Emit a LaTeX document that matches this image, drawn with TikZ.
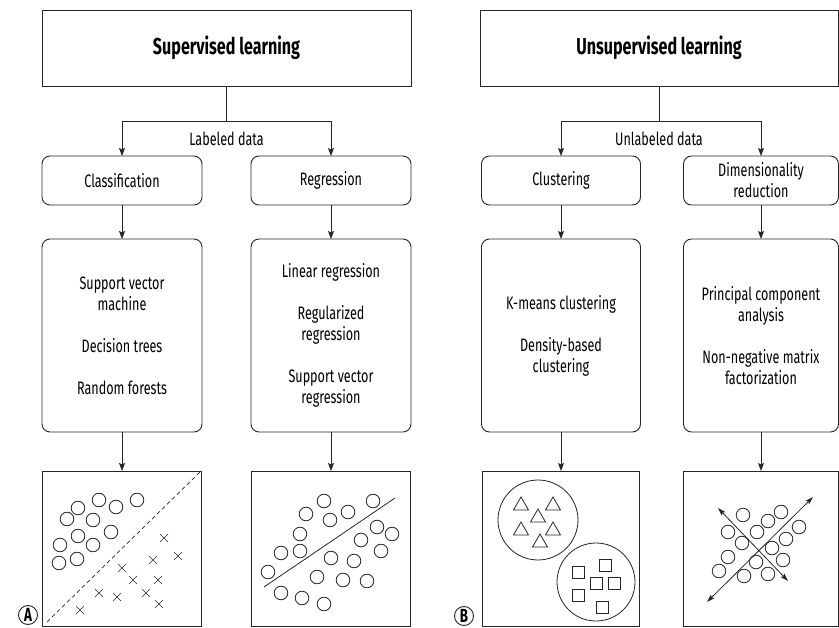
\documentclass[tikz,border=0pt]{standalone}
\usepackage{fontspec}
\setmainfont{Fira Sans}[FakeStretch=0.7]
\usetikzlibrary{arrows.meta}

\tikzset{
  title/.style={draw, outer sep=0pt, inner sep=0pt, align=center, font=\fontsize{23}{27}\selectfont\bfseries},
  box/.style={draw, rounded corners=8pt, outer sep=0pt, inner sep=0pt, align=center, font=\fontsize{18}{21}\selectfont},
  plot/.style={draw, outer sep=0pt, inner sep=0pt, minimum height=155pt},
  tag/.style={draw, circle, outer sep=0pt, inner sep=0pt, minimum size=19pt, font=\fontsize{19}{19}\selectfont\bfseries},
  arr/.style={-{Stealth[length=8pt,width=6pt,inset=1.5pt]}},
  twoarr/.style={{Stealth[length=8pt,width=5pt,inset=1.5pt]}-{Stealth[length=8pt,width=5pt,inset=1.5pt]}}
}

\begin{document}
\begin{tikzpicture}[x=1pt, y=-1pt, line width=0.9pt, draw=black!85]
  \useasboundingbox (0,0) rectangle (839,628);

  \node[title, minimum width=369pt, minimum height=76pt] (sup) at (226.5,48) {Supervised learning};
  \node[title, minimum width=358pt, minimum height=76pt] (unsup) at (659,48) {Unsupervised learning};

  \node[box, minimum width=160pt, minimum height=49pt] (cls) at (122,180.5) {Classification};
  \node[box, minimum width=160pt, minimum height=49pt] (reg) at (331,180.5) {Regression};
  \node[box, minimum width=159pt, minimum height=49pt] (clu) at (561,180.5) {Clustering};
  \node[box, minimum width=155pt, minimum height=49pt] (dim) at (761,180.5) {Dimensionality\\reduction};

  \node[box, minimum width=160pt, minimum height=193pt] (clsalg) at (122,335.5)
    {Support vector\\machine\\[21pt]Decision trees\\[21pt]Random forests};
  \node[box, minimum width=160pt, minimum height=193pt] (regalg) at (331,335.5)
    {Linear regression\\[21pt]Regularized\\regression\\[21pt]Support vector\\regression};
  \node[box, minimum width=159pt, minimum height=193pt] (clualg) at (561,335.5)
    {K-means clustering\\[21pt]Density-based\\clustering};
  \node[box, minimum width=155pt, minimum height=193pt] (dimalg) at (761,335.5)
    {Principal component\\analysis\\[21pt]Non-negative matrix\\factorization};

  \node[plot, minimum width=159pt] (clsplot) at (122,548.5) {};
  \node[plot, minimum width=159pt] (regplot) at (331,548.5) {};
  \node[plot, minimum width=157pt] (cluplot) at (561,548.5) {};
  \node[plot, minimum width=155pt] (dimplot) at (761,548.5) {};

  \node[tag] (tagA) at (28,615) {A};
  \node[tag] (tagB) at (464,616) {B};

  \coordinate (supfork) at (226.5,121);
  \coordinate (unsupfork) at (659,121);
  \draw (sup) -- (supfork);
  \draw[arr] (supfork) -| (cls.north);
  \draw[arr] (supfork) -| (reg.north);
  \draw (unsup) -- (unsupfork);
  \draw[arr] (unsupfork) -| (clu.north);
  \draw[arr] (unsupfork) -| (dim.north);
  \node[font=\fontsize{18}{21}\selectfont] (labeled) at (226.5,139) {Labeled data};
  \node[font=\fontsize{18}{21}\selectfont] (unlabeled) at (659,139) {Unlabeled data};

  \draw[arr] (cls) -- (clsalg);
  \draw[arr] (reg) -- (regalg);
  \draw[arr] (clu) -- (clualg);
  \draw[arr] (dim) -- (dimalg);
  \draw[arr] (clsalg) -- (clsplot);
  \draw[arr] (regalg) -- (regplot);
  \draw[arr] (clualg) -- (cluplot);
  \draw[arr] (dimalg) -- (dimplot);

  \draw[line width=0.7pt, dash pattern=on 4pt off 3pt] (47,622) -- (200,472);
  \foreach \p in {(99,500),(116,507),(137,500),(78,508),(67,519),(93,520),
                  (111,532),(78,536),(60,545),(93,545),(59,563),(77,559)}
    \draw[line width=0.8pt] \p circle[radius=6.8pt];
  \foreach \p in {(164,538),(178,556),(153,560),(122,568),(133,580),(158,580),
                  (99,593),(117,597),(146,593),(159,604),(80,610)}
    \draw[line width=0.7pt] \p +(-4,-4) -- +(4,4) \p +(-4,4) -- +(4,-4);

  \draw[line width=0.8pt] (264,587) -- (395,498);
  \foreach \p in {(324,501),(373,501),(306,514),(348,512),(330,520),(377,527),(392,534),
                  (300,534),(361,540),(281,553),(300,551),(381,551),(331,558),(354,561),
                  (268,572),(317,577),(343,580),(367,581),(281,593),(302,598),(324,604)}
    \draw[line width=0.8pt] \p circle[radius=6.8pt];

  \draw[line width=0.8pt] (538,520) circle[radius=40pt];
  \draw[line width=0.8pt] (596,582) circle[radius=39pt];
  \foreach \p in {(521,504),(553,504),(538,516),(521,529),(553,529),(540,541)}
    \draw[line width=0.8pt] \p +(0,-7) -- +(7.5,6) -- +(-7.5,6) -- cycle;
  \foreach \p in {(578,572),(605,565),(596,583),(614,583),(578,595),(602,607)}
    \draw[line width=0.8pt] \p +(-6,-6) rectangle +(6,6);

  \draw[twoarr, line width=0.8pt] (707,602) -- (813,497);
  \draw[twoarr, line width=0.8pt] (718,508) -- (788,581);
  \foreach \p in {(743,515),(781,512),(768,521),(728,532),(757,532),(799,527),(742,543),
                  (786,539),(772,548),(728,557),(756,562),(783,560),(719,571),(744,576),(768,574)}
    \draw[line width=0.8pt] \p circle[radius=6.8pt];
\end{tikzpicture}
\end{document}
